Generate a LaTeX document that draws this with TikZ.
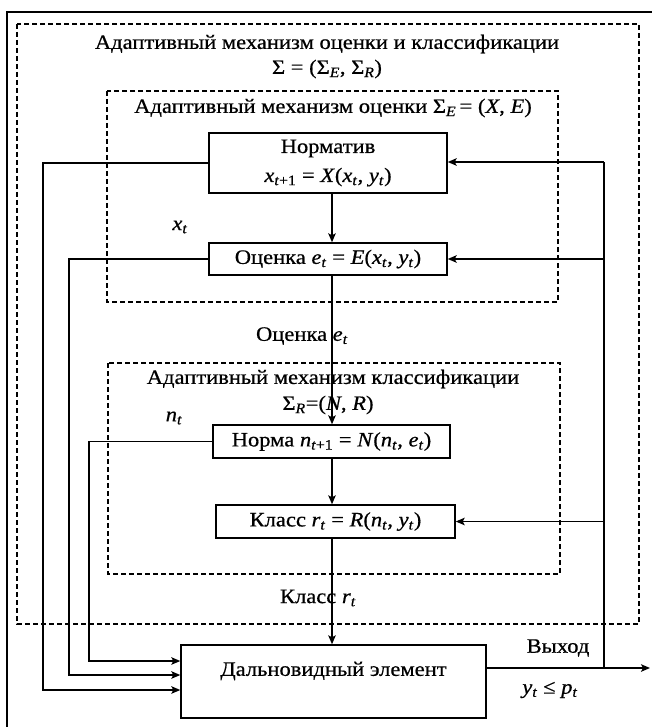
\documentclass[tikz,border=0pt]{standalone}
\usepackage{fontspec}
\setmainfont[FakeStretch=1.1,FakeBold=0.6]{Liberation Serif}
\usetikzlibrary{arrows.meta}
\newcommand\iv[2]{\textit{#1}\textsubscript{\textit{#2}}}
\begin{document}
\begin{tikzpicture}[x=1pt,y=-1pt,
  font=\fontsize{20.5}{24}\selectfont,
  ln/.style={line width=1.4pt},
  arr/.style={ln,-{Stealth[length=9pt,width=7.5pt,inset=2pt]}},
  dsh/.style={line width=1.1pt,dash pattern=on 5pt off 3pt},
  blk/.style={draw,line width=1.4pt,inner sep=0pt,align=center},
  lbl/.style={inner sep=0pt}]
\useasboundingbox (0,0) rectangle (652,727);
% outer frame (cropped)
\draw[line width=2pt] (7,727) -- (7,12) -- (652,12);
% dashed groups
\draw[dsh] (17,24) rectangle (639,624);
\draw[dsh] (107,91) rectangle (558,302);
\draw[dsh] (108,363) rectangle (560,574);
% titles
\node[lbl] (t1) at (327,44) {Адаптивный механизм оценки и классификации};
\node[lbl] (t2) at (327,69) {Σ = (Σ\textsubscript{\textit{E}}, Σ\textsubscript{\textit{R}})};
\node[lbl] (t3) at (333,108) {Адаптивный механизм оценки Σ\textsubscript{\textit{E}}\,= (\textit{X}, \textit{E})};
\node[lbl] (t4) at (333,379) {Адаптивный механизм классификации};
\node[lbl] (t5) at (328,405) {Σ\textsubscript{\textit{R}}=(\textit{N}, \textit{R})};
% boxes
\node[blk,minimum width=238pt,minimum height=60pt,font=\fontsize{20.5}{29}\selectfont] (norm) at (328,163)
  {Норматив\\\textit{x}\textsubscript{\textit{t}+1} = \textit{X}(\iv{x}{t}, \iv{y}{t})};
\node[blk,minimum width=238pt,minimum height=32pt] (oc) at (328,259)
  {Оценка \iv{e}{t} = \textit{E}(\iv{x}{t}, \iv{y}{t})};
\node[blk,minimum width=237pt,minimum height=33pt] (nr) at (331.5,441.5)
  {Норма \textit{n}\textsubscript{\textit{t}+1} = \textit{N}(\iv{n}{t}, \iv{e}{t})};
\node[blk,minimum width=239pt,minimum height=33pt] (kl) at (335.5,521.5)
  {Класс \iv{r}{t} = \textit{R}(\iv{n}{t}, \iv{y}{t})};
\node[blk,minimum width=305pt,minimum height=73pt] (dal) at (333.5,681.5) {};
\node[lbl] (dalt) at (333.5,671) {Дальновидный элемент};
% labels
\node[lbl] (xt) at (180,227) {\iv{x}{t}};
\node[lbl] (nt) at (174,418) {\iv{n}{t}};
\node[lbl] (ocl) at (302,336) {Оценка \iv{e}{t}};
\node[lbl] (kll) at (318,598) {Класс \iv{r}{t}};
\node[lbl] (vyh) at (558,648) {Выход};
\node[lbl] (yp) at (550,690) {\iv{y}{t} ≤ \iv{p}{t}};
% spine
\coordinate (sp) at (332,0);
\draw[arr] (norm.south -| sp) -- (oc.north -| sp);
\draw[arr] (oc.south -| sp) -- (nr.north -| sp);
\draw[arr] (nr.south -| sp) -- (kl.north -| sp);
\draw[arr] (kl.south -| sp) -- (dal.north -| sp);
% output and feedback
\coordinate (outend) at (650,668);
\coordinate (rt) at (604,668);
\coordinate (rtop) at (604,162);
\draw[arr] (dal.east |- outend) -- (outend);
\draw[ln] (rt) -- (rtop);
\draw[arr] (rtop) -- (norm.east |- rtop);
\draw[arr] (rt |- oc.east) -- (oc.east);
\draw[arr] (rt |- kl.east) -- (kl.east);
% left feeds
\coordinate (l1) at (43,0);
\coordinate (l2) at (69,0);
\coordinate (l3) at (89,0);
\coordinate (in1) at ([yshift=-8.5pt]dal.west);
\coordinate (in2) at ([yshift=6.5pt]dal.west);
\coordinate (in3) at ([yshift=20.5pt]dal.west);
\draw[arr] (norm.west) -- (norm.west -| l1) -- (l1 |- in1) -- (in1);
\draw[arr] (oc.west) -- (oc.west -| l2) -- (l2 |- in2) -- (in2);
\draw[arr] (nr.west) -- (nr.west -| l3) -- (l3 |- in3) -- (in3);
\end{tikzpicture}
\end{document}
